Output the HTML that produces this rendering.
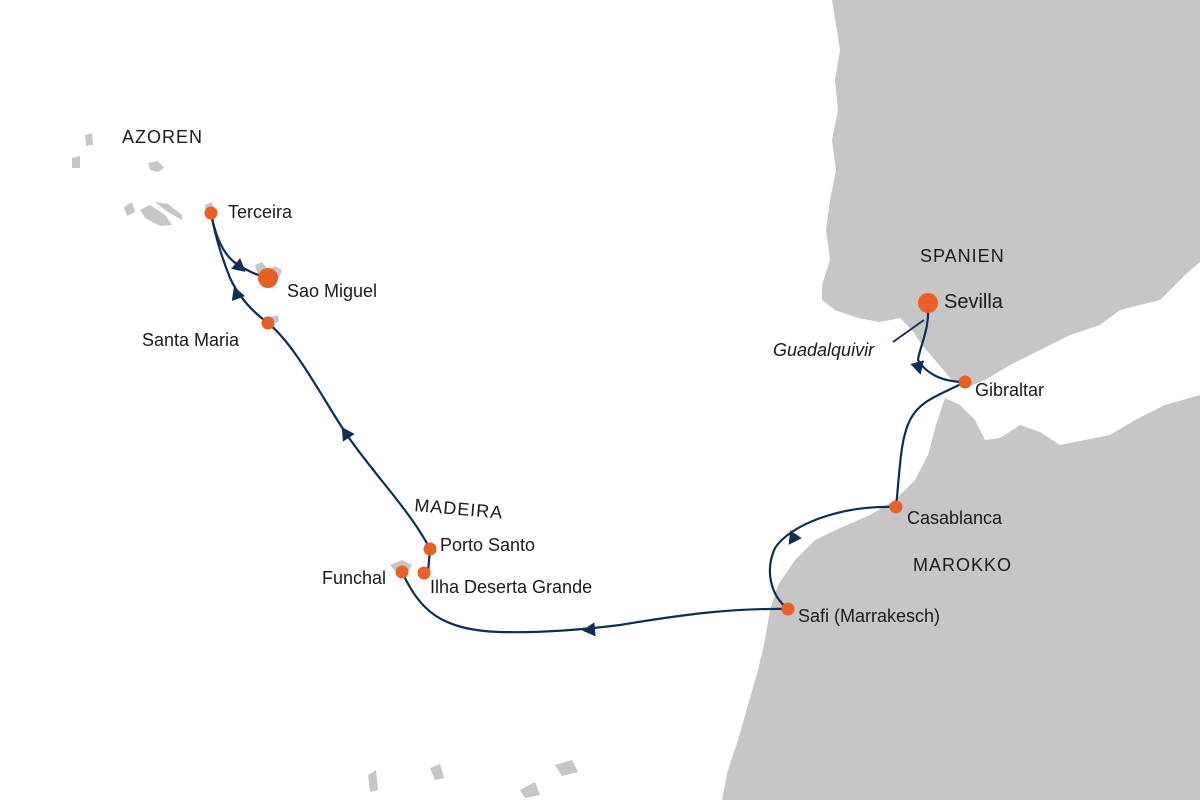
<!DOCTYPE html>
<html><head><meta charset="utf-8"><style>
html,body{margin:0;padding:0;background:#fff;}
svg{display:block;}
text{font-family:"Liberation Sans",sans-serif;fill:#1a1a1a;}
</style></head><body>
<svg width="1200" height="800" viewBox="0 0 1200 800" xmlns="http://www.w3.org/2000/svg">
<g fill="#c6c6c6">
<path d="M832,0 L1200,0 L1200,262 L1185,275 L1160,300 L1120,310 L1100,325 L1070,335 L1040,350 L1010,365 L985,380 L965,388 L950,378 L935,360 L922,345 L912,330 L900,318 L880,322 L858,318 L835,310 L822,300 L822,285 L830,260 L826,230 L830,200 L836,170 L832,140 L838,110 L835,80 L840,50 L836,25 Z"/>
<path d="M945,398 L960,405 L975,420 L985,440 L1000,438 L1020,425 L1040,432 L1060,445 L1085,440 L1110,435 L1135,420 L1165,405 L1200,395 L1200,800 L722,800 L728,770 L738,740 L748,705 L758,670 L765,640 L770,610 L778,585 L795,560 L815,540 L840,528 L870,515 L895,500 L915,480 L928,455 L936,425 Z"/>
<path d="M85,135 L92,133 L93,145 L86,146 Z"/>
<path d="M72,158 L80,156 L80,168 L72,168 Z"/>
<path d="M148,163 L158,161 L164,168 L158,172 L150,170 Z"/>
<path d="M124,207 L132,202 L135,212 L127,216 Z"/>
<path d="M140,210 L150,205 L165,215 L172,225 L160,226 L145,218 Z"/>
<path d="M155,202 L168,204 L182,215 L182,220 L168,212 Z"/>
<path d="M205,205 L212,202 L214,210 L206,212 Z"/>
<path d="M255,265 L262,262 L268,270 L275,266 L282,270 L278,280 L268,282 L258,275 Z"/>
<path d="M268,318 L278,315 L279,322 L270,323 Z"/>
<path d="M390,565 L402,560 L412,565 L408,572 L395,571 Z"/>
<path d="M425,545 L433,544 L432,551 Z"/>
<path d="M368,775 L376,770 L378,790 L370,792 Z"/>
<path d="M430,768 L440,764 L444,778 L435,780 Z"/>
<path d="M520,790 L535,782 L540,795 L525,798 Z"/>
<path d="M555,765 L572,760 L578,772 L562,776 Z"/>
</g>
<g fill="none" stroke="#0f2d55" stroke-width="2.2">
<path d="M211,213 C216,240 225,258 240,266"/>
<path d="M240,266 C250,272 260,277 270,278"/>
<path d="M268,323 C250,310 238,295 230,278 C222,258 215,235 211,213"/>
<path d="M430,549 C410,510 370,470 345,432 C320,394 295,345 268,323"/>
<path d="M430,549 L428,572 L424,573"/>
<path d="M402,572 C420,610 440,630 500,632 C540,633 580,630 620,625 C680,615 730,608 788,609"/>
<path d="M788,609 C770,595 765,570 775,548 C790,525 840,505 896,507"/>
<path d="M896,507 C900,470 900,440 910,420 C920,400 940,395 965,382"/>
<path d="M965,382 C940,382 925,372 918,360 C920,345 930,330 928,303"/>
<path d="M893,342 L924,320" stroke-width="1.8"/>
</g>
<g fill="#0f2d55">
<polygon points="6,0 -7,-7 -7,7" transform="translate(241,268) rotate(40)"/>
<polygon points="6,0 -7,-7 -7,7" transform="translate(236,292) rotate(-110)"/>
<polygon points="6,0 -7,-7 -7,7" transform="translate(345,432) rotate(-123)"/>
<polygon points="6,0 -7,-7 -7,7" transform="translate(588,630) rotate(175)"/>
<polygon points="6,0 -7,-7 -7,7" transform="translate(792,540) rotate(125)"/>
<polygon points="6,0 -7,-7 -7,7" transform="translate(919,369) rotate(75)"/>
</g>
<g fill="#ea5f24">
<circle cx="211" cy="213" r="6.5"/>
<circle cx="268" cy="278" r="10"/>
<circle cx="268" cy="323" r="6.5"/>
<circle cx="430" cy="549" r="6.5"/>
<circle cx="402" cy="572" r="6.5"/>
<circle cx="424" cy="573" r="6.5"/>
<circle cx="788" cy="609" r="6.5"/>
<circle cx="896" cy="507" r="6.5"/>
<circle cx="965" cy="382" r="6.5"/>
<circle cx="928" cy="303" r="10"/>
</g>
<g font-size="18">
<text x="122" y="143" letter-spacing="1">AZOREN</text>
<text x="228" y="218">Terceira</text>
<text x="287" y="297">Sao Miguel</text>
<text x="142" y="346">Santa Maria</text>
<text x="414" y="511" letter-spacing="1" transform="rotate(5 414 511)">MADEIRA</text>
<text x="440" y="551">Porto Santo</text>
<text x="322" y="584">Funchal</text>
<text x="430" y="593">Ilha Deserta Grande</text>
<text x="798" y="622">Safi (Marrakesch)</text>
<text x="907" y="524">Casablanca</text>
<text x="913" y="571" letter-spacing="1">MAROKKO</text>
<text x="975" y="396">Gibraltar</text>
<text x="944" y="308" font-size="20">Sevilla</text>
<text x="920" y="262" letter-spacing="1">SPANIEN</text>
<text x="773" y="356" font-style="italic">Guadalquivir</text>
</g>
</svg>
</body></html>
